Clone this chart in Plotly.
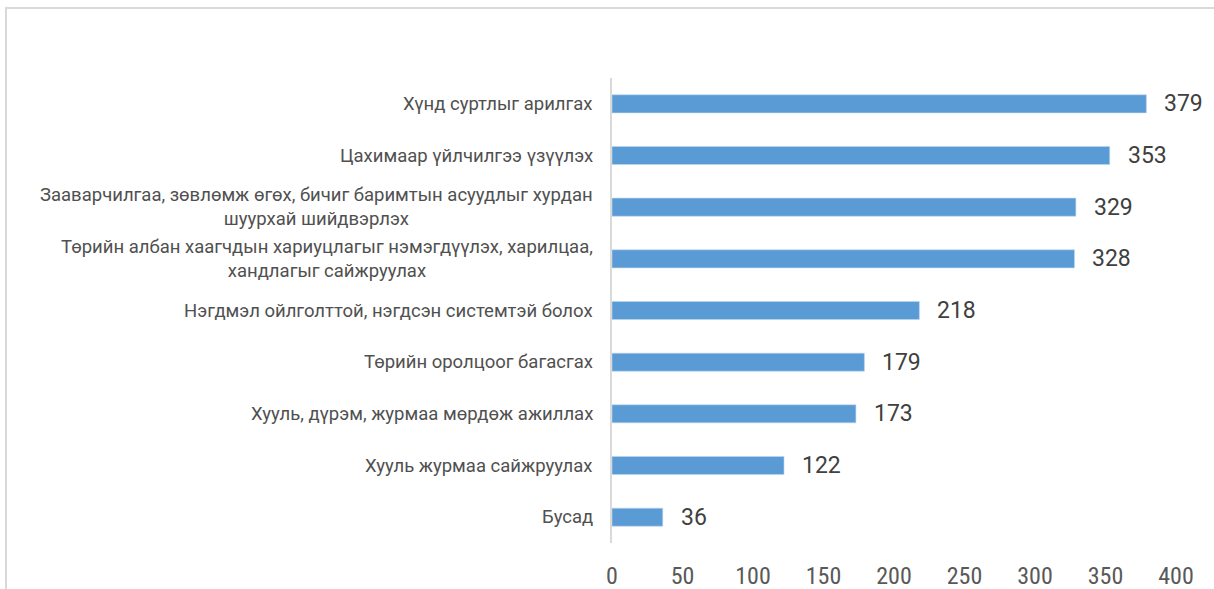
import plotly.graph_objects as go

categories = [
    "Хүнд суртлыг арилгах",
    "Цахимаар үйлчилгээ үзүүлэх",
    "Зааварчилгаа, зөвлөмж өгөх, бичиг баримтын асуудлыг хурдан<br>шуурхай шийдвэрлэх",
    "Төрийн албан хаагчдын хариуцлагыг нэмэгдүүлэх, харилцаа,<br>хандлагыг сайжруулах",
    "Нэгдмэл ойлголттой, нэгдсэн системтэй болох",
    "Төрийн оролцоог багасгах",
    "Хууль, дүрэм, журмаа мөрдөж ажиллах",
    "Хууль журмаа сайжруулах",
    "Бусад",
]
values = [379, 353, 329, 328, 218, 179, 173, 122, 36]
x_ticks = [0, 50, 100, 150, 200, 250, 300, 350, 400]

W, H = 1214, 589
L, R, T, B = 612, 38, 78, 46
pw, ph = W - L - R, H - T - B

fig = go.Figure()
fig.add_trace(go.Bar(
    x=values, y=categories, orientation="h",
    marker=dict(color="#5B9BD5", line=dict(color="#BDD7EE", width=0.6)),
    width=0.35,
))

for c, v in zip(categories, values):
    fig.add_annotation(
        x=-17 / pw, xref="paper", y=c, yref="y",
        text=c, showarrow=False, xanchor="right", yanchor="middle",
        align="center",
        font=dict(family="Roboto", size=18.5, color="#505050"),
    )
    fig.add_annotation(
        x=v, xref="x", y=c, yref="y", text=str(v), showarrow=False,
        xanchor="left", yanchor="middle", xshift=16,
        font=dict(family="Roboto", size=23, color="#404040"),
    )

def px_x(p):
    return (p - L) / pw

def px_y(p):
    return (H - B - p) / ph

fig.add_shape(type="rect", xref="paper", yref="paper",
              x0=px_x(6), x1=px_x(1230), y0=px_y(8), y1=px_y(610),
              line=dict(color="#D9D9D9", width=2), fillcolor="rgba(0,0,0,0)",
              layer="below")

fig.update_layout(
    width=W, height=H,
    margin=dict(l=L, r=R, t=T, b=B, autoexpand=False),
    paper_bgcolor="white", plot_bgcolor="white",
    showlegend=False,
    font=dict(family="Roboto", color="#595959"),
    xaxis=dict(
        range=[0, 400], tickvals=x_ticks, ticktext=[str(t) for t in x_ticks],
        showgrid=False, zeroline=False, showline=False,
        ticks="outside", ticklen=11, tickcolor="rgba(0,0,0,0)",
        tickfont=dict(family="Liberation Sans Narrow, Roboto Condensed, Roboto", size=24, color="#595959"),
        fixedrange=True,
    ),
    yaxis=dict(
        autorange="reversed", showticklabels=False, showgrid=False,
        showline=True, linecolor="#D9D9D9", linewidth=2, zeroline=False,
        ticks="", fixedrange=True,
    ),
)

fig.write_html(
    "out.html",
    config={"displayModeBar": False},
    post_script="document.body.style.margin='0';document.body.style.overflow='hidden';",
)
